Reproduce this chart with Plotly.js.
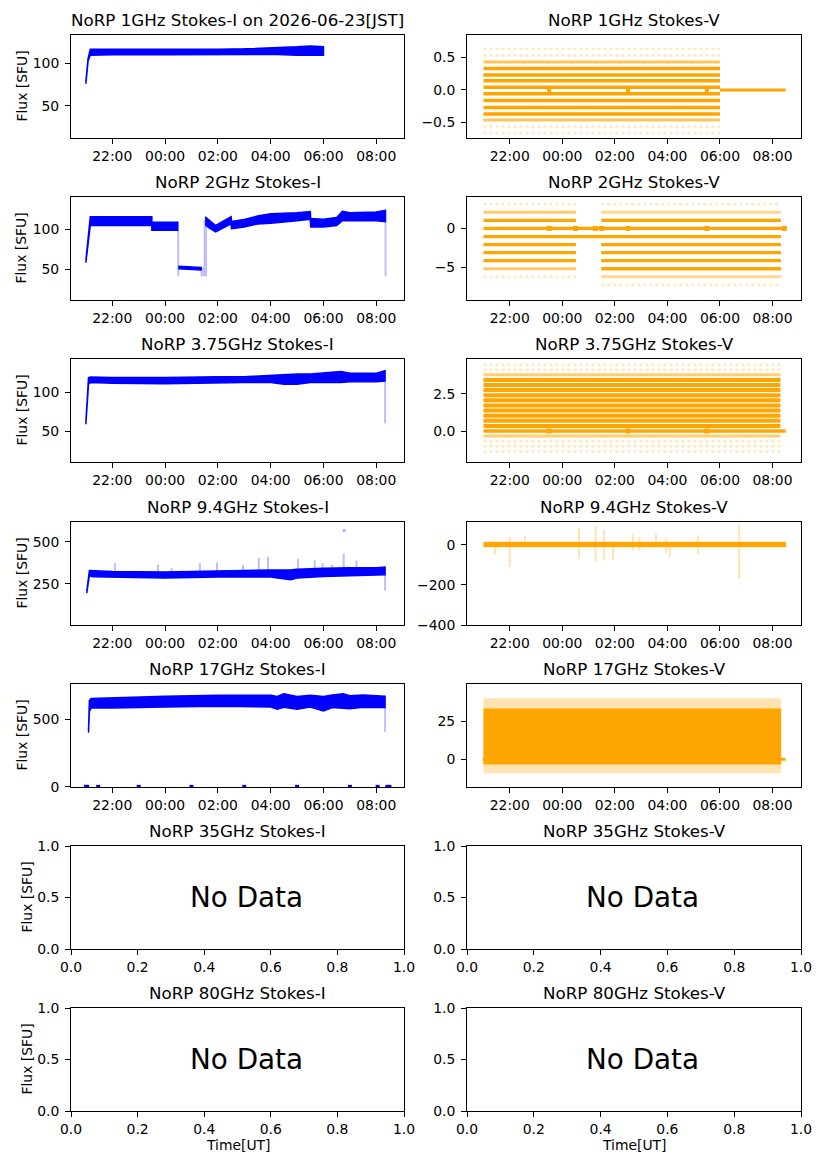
<!DOCTYPE html>
<html>
<head>
<meta charset="utf-8">
<script src="https://cdn.plot.ly/plotly-3.0.1.min.js"></script>
<style>
  body { margin: 0; background: white; }
  #chart { width: 827px; height: 1169px; }
</style>
</head>
<body>
<div id="chart"></div>
<script>
// values, time in UT (HH:MM)
const freqLabels = ['1GHz', '2GHz', '3.75GHz', '9.4GHz', '17GHz', '35GHz', '80GHz'];

// 1 GHz
const i1gTime = ['21:00', '21:05', '21:10', '22:00', '00:00', '02:00', '03:00', '04:00', '05:00', '05:30', '06:00'];
const i1gLow = [76, 103, 110, 110.5, 110.5, 110.5, 111, 111, 110, 110, 110];
const i1gHigh = [79, 106, 117, 117, 117, 117, 117.5, 118.5, 120, 121, 120];
const v1gSpan = ['21:00', '06:00'];
const v1gSolid = [0.33, 0.23, 0.14, 0.04, -0.06, -0.16, -0.27, -0.37];
const v1gMedium = [0.43, -0.46];
const v1gSparse = [0.53, 0.63, -0.56, -0.66];
const v1gZeroSpan = ['06:00', '08:30'];
const v1gZeroDots = ['23:30', '02:30', '05:30'];

// 2 GHz
const i2gTimeA = ['21:00', '21:10', '22:00', '23:30', '23:30', '00:29'];
const i2gLowA = [58, 105, 105, 105, 99, 99];
const i2gHighA = [61, 116, 116, 116, 109, 109];
const i2gTimeB = ['00:30', '01:22'];
const i2gLowB = [50.5, 49];
const i2gHighB = [53.5, 52];
const i2gTimeC = ['01:31', '01:40', '01:55', '02:15', '02:30', '02:31', '03:00', '03:30', '04:00',
  '05:00', '05:30', '05:31', '06:00', '06:30', '06:43', '07:00', '08:00', '08:21'];
const i2gLowC = [106, 102, 97, 103, 107, 101, 103, 107, 108, 111, 113, 103, 103, 105, 111, 111, 111, 110];
const i2gHighC = [116, 112, 105, 111, 116, 110, 112.5, 117, 120, 121, 122.5, 114, 113, 115, 123, 121, 122, 124];
const i2gDropTime = ['00:30', '01:23', '01:27', '01:30', '01:33', '08:21'];
const i2gDropFrom = [99, 52, 52, 112, 115, 110];
const i2gDropTo = [41, 41, 41, 41, 41, 41];
const v2gSpanA = ['21:00', '00:31'];
const v2gSpanC = ['01:29', '08:19'];
const v2gSolid = [1.04, -2.08, -3.12, -4.16];
const v2gMediumA = [2.08, -5.2];
const v2gSparseA = [3.12, -6.24];
const v2gSolidC = [-5.2];
const v2gMediumC = [2.08, -6.24];
const v2gSparseC = [3.12, -7.28];
const v2gBridge = [-1.04];
const v2gBridgeSpan = ['21:00', '08:19'];
const v2gZeroSpan = ['21:00', '08:30'];
const v2gZeroDots = ['23:30', '00:30', '01:15', '01:30', '02:30', '05:30', '08:27'];

// 3.75 GHz
const i3gTime = ['21:00', '21:06', '21:10', '22:00', '00:00', '02:00', '03:00', '04:00', '04:30', '05:00',
  '05:30', '06:00', '06:40', '07:00', '08:00', '08:20'];
const i3gLow = [59, 110, 112, 111, 110.5, 112, 112, 112, 110, 110, 112, 112, 112, 113, 113, 114];
const i3gHigh = [62, 118, 119, 118.5, 118.5, 119.5, 119.5, 121, 122, 123, 123, 124, 126, 124, 124, 127];
const i3gDropTime = ['08:20'];
const i3gDropFrom = [113];
const i3gDropTo = [60];
const v3gSpan = ['21:00', '08:18'];
const v3gSolid = [3.45, 3.10, 2.76, 2.41, 2.07, 1.72, 1.38, 1.03, 0.69, 0.34];
const v3gMedium = [3.79, -0.34];
const v3gSparse = [4.14, 4.48, -0.69, -1.03, -1.38];
const v3gZeroSpan = ['21:00', '08:30'];
const v3gZeroDots = ['23:30', '02:30', '05:30'];

// 9.4 GHz
const i9gTime = ['21:02', '21:08', '21:15', '22:00', '00:00', '02:00', '04:00', '04:45', '05:00', '06:00',
  '07:00', '08:00', '08:20'];
const i9gLow = [195, 300, 292, 290, 285, 290, 290, 275, 285, 293, 296, 300, 304];
const i9gHigh = [205, 329, 325, 323, 320, 328, 332, 333, 336, 343, 345, 345, 349];
const i9gSpikeTime = ['22:06', '23:44', '00:15', '01:19', '01:58', '02:57', '03:33', '03:54', '05:02',
  '05:40', '05:58', '06:19', '06:46', '07:15', '08:20'];
const i9gSpikeFrom = [320, 320, 320, 322, 325, 325, 328, 328, 330, 335, 338, 340, 340, 342, 305];
const i9gSpikeTo = [373, 363, 343, 373, 377, 363, 403, 412, 398, 389, 373, 363, 428, 389, 210];
const i9gOutlierTime = ['06:47'];
const i9gOutlierFlux = [566];
const v9gTime = ['21:00', '08:30'];
const v9gLow = [-10, -10];
const v9gHigh = [12, 12];
const v9gSpikeTime = ['21:27', '22:00', '22:35', '00:38', '01:16', '01:35', '01:56', '02:41', '02:56',
  '03:34', '03:57', '04:05', '05:10', '06:44'];
const v9gSpikeLow = [-50, -111, -10, -71, -83, -78, -75, -30, -30, -20, -40, -64, -50, -170];
const v9gSpikeHigh = [15, 41, 44, 83, 95, 75, 20, 50, 40, 55, 30, 10, 45, 100];

// 17 GHz
const i17Time = ['21:06', '21:08', '21:12', '22:00', '00:00', '02:00', '04:00', '04:15', '04:30', '05:00',
  '05:30', '06:00', '06:20', '06:45', '07:00', '07:30', '08:20'];
const i17Low = [401, 560, 584, 584, 592, 597, 592, 575, 590, 575, 592, 562, 588, 582, 578, 590, 588];
const i17High = [420, 640, 655, 658, 671, 678, 678, 670, 690, 670, 678, 670, 680, 690, 675, 680, 671];
const i17DropTime = ['08:20'];
const i17DropFrom = [588];
const i17DropTo = [408];
const i17ZeroTime = ['21:00', '21:03', '21:28', '23:00', '01:00', '03:00', '05:00', '07:00', '08:03', '08:25', '08:30'];
const v17Time = ['21:00', '08:18'];
const v17CoreLow = [-3, -3];
const v17CoreHigh = [33, 33];
const v17HaloLow = [-9, -9];
const v17HaloHigh = [40, 40];
const v17ZeroSpan = ['20:58', '08:30'];

const BLUE = '#0000ff';
const ORANGE = '#ffa500';

const day = (t) => (t < '12:00' ? '2026-06-23 ' : '2026-06-22 ') + t;
const ax = (n) => (n === 1 ? '' : String(n));

function band(times, lo, hi, n, color, opacity = 1, width = 1.5) {
  return {
    x: [...times, ...times.slice().reverse()].map(day),
    y: [...lo, ...hi.slice().reverse()],
    xaxis: 'x' + ax(n), yaxis: 'y' + ax(n),
    mode: 'lines', fill: 'toself', fillcolor: color, opacity,
    line: { color, width }, hoverinfo: 'skip',
  };
}

function segments(times, from, to, n, color, opacity, width = 1.5) {
  const x = [];
  const y = [];
  times.forEach((t, k) => {
    x.push(day(t), day(t), null);
    y.push(from[k], to[k], null);
  });
  return {
    x, y, xaxis: 'x' + ax(n), yaxis: 'y' + ax(n), mode: 'lines', opacity,
    line: { color, width }, hoverinfo: 'skip',
  };
}

function levels(vals, span, n, color, width, opacity = 1, dash = 'solid') {
  const x = [];
  const y = [];
  vals.forEach((v) => {
    x.push(day(span[0]), day(span[1]), null);
    y.push(v, v, null);
  });
  return {
    x, y, xaxis: 'x' + ax(n), yaxis: 'y' + ax(n), mode: 'lines', opacity,
    line: { color, width, dash }, hoverinfo: 'skip',
  };
}

function dots(times, vals, n, color, size, opacity = 1) {
  return {
    x: times.map(day), y: vals, xaxis: 'x' + ax(n), yaxis: 'y' + ax(n),
    mode: 'markers', opacity, marker: { color, size, symbol: 'square' }, hoverinfo: 'skip',
  };
}

const zeros = (arr) => arr.map(() => 0);

const traces = [
  // 1 GHz
  band(i1gTime, i1gLow, i1gHigh, 1, BLUE),
  levels(v1gSparse, v1gSpan, 2, ORANGE, 2.5, 0.25, 'dot'),
  levels(v1gMedium, v1gSpan, 2, ORANGE, 3, 0.65),
  levels(v1gSolid, v1gSpan, 2, ORANGE, 3.5),
  levels([0], v1gZeroSpan, 2, ORANGE, 3),
  dots(v1gZeroDots, zeros(v1gZeroDots), 2, ORANGE, 4),
  // 2 GHz
  segments(i2gDropTime, i2gDropFrom, i2gDropTo, 3, BLUE, 0.25, 2),
  band(i2gTimeA, i2gLowA, i2gHighA, 3, BLUE),
  band(i2gTimeB, i2gLowB, i2gHighB, 3, BLUE),
  band(i2gTimeC, i2gLowC, i2gHighC, 3, BLUE),
  levels(v2gSparseA, v2gSpanA, 4, ORANGE, 2.5, 0.25, 'dot'),
  levels(v2gSparseC, v2gSpanC, 4, ORANGE, 2.5, 0.25, 'dot'),
  levels(v2gMediumA, v2gSpanA, 4, ORANGE, 3, 0.6),
  levels(v2gMediumC, v2gSpanC, 4, ORANGE, 3, 0.45),
  levels(v2gSolid, v2gSpanA, 4, ORANGE, 3.3),
  levels(v2gSolid, v2gSpanC, 4, ORANGE, 3.3),
  levels(v2gSolidC, v2gSpanC, 4, ORANGE, 3.3),
  levels(v2gBridge, v2gBridgeSpan, 4, ORANGE, 3.3),
  levels([0], v2gZeroSpan, 4, ORANGE, 3.3),
  dots(v2gZeroDots, zeros(v2gZeroDots), 4, ORANGE, 5),
  // 3.75 GHz
  segments(i3gDropTime, i3gDropFrom, i3gDropTo, 5, BLUE, 0.25, 2),
  band(i3gTime, i3gLow, i3gHigh, 5, BLUE),
  levels(v3gSparse, v3gSpan, 6, ORANGE, 2.5, 0.25, 'dot'),
  levels(v3gMedium, v3gSpan, 6, ORANGE, 3, 0.55),
  levels(v3gSolid, v3gSpan, 6, ORANGE, 4),
  levels([0], v3gZeroSpan, 6, ORANGE, 3.5),
  dots(v3gZeroDots, zeros(v3gZeroDots), 6, ORANGE, 5),
  // 9.4 GHz
  segments(i9gSpikeTime, i9gSpikeFrom, i9gSpikeTo, 7, BLUE, 0.25, 2),
  dots(i9gOutlierTime, i9gOutlierFlux, 7, BLUE, 3, 0.3),
  band(i9gTime, i9gLow, i9gHigh, 7, BLUE),
  segments(v9gSpikeTime, v9gSpikeLow, v9gSpikeHigh, 8, ORANGE, 0.3, 2),
  band(v9gTime, v9gLow, v9gHigh, 8, ORANGE, 1, 1),
  // 17 GHz
  segments(i17DropTime, i17DropFrom, i17DropTo, 9, BLUE, 0.25, 2),
  band(i17Time, i17Low, i17High, 9, BLUE),
  dots(i17ZeroTime, zeros(i17ZeroTime), 9, BLUE, 4),
  levels([0], v17ZeroSpan, 10, ORANGE, 3),
  band(v17Time, v17HaloLow, v17HaloHigh, 10, ORANGE, 0.3, 1),
  band(v17Time, v17CoreLow, v17CoreHigh, 10, ORANGE),
];

// empty panels (35 GHz, 80 GHz)
[11, 12, 13, 14].forEach((n) => {
  traces.push({ x: [], y: [], xaxis: 'x' + ax(n), yaxis: 'y' + ax(n), mode: 'lines' });
});

const W = 827;
const H = 1169;
const rowsPx = [[35, 138], [197, 300], [359, 462], [522, 625], [684, 787], [846, 949], [1008, 1111]];
const colsPx = [[71, 404], [467, 801]];
const timeRanges = [[day('20:26:12'), day('09:03')], [day('20:22:24'), day('09:05')]];
const ySpec = [
  { range: [11.5, 134], dtick: 50 }, { range: [-0.737, 0.843], dtick: 0.5, tickformat: '.1f' },
  { range: [11, 141], dtick: 50 }, { range: [-9.23, 4.06], dtick: 5 },
  { range: [11, 142], dtick: 50 }, { range: [-2.09, 4.86], dtick: 2.5, tickformat: '.1f' },
  { range: [6, 617], dtick: 250 }, { range: [-400, 113], dtick: 200 },
  { range: [-1, 762], dtick: 500 }, { range: [-18.4, 49.8], dtick: 25 },
  { range: [0, 1], dtick: 0.5, tickformat: '.1f' }, { range: [0, 1], dtick: 0.5, tickformat: '.1f' },
  { range: [0, 1], dtick: 0.5, tickformat: '.1f' }, { range: [0, 1], dtick: 0.5, tickformat: '.1f' },
];

const axisStyle = {
  showline: true, mirror: true, linecolor: 'black', linewidth: 1,
  ticks: 'outside', ticklen: 5, tickwidth: 1, tickcolor: 'black',
  showgrid: false, zeroline: false,
  tickfont: { family: 'DejaVu Sans', size: 13.9, color: 'black' },
};

const layout = {
  width: W, height: H,
  margin: { l: 0, r: 0, t: 0, b: 0 },
  showlegend: false,
  paper_bgcolor: 'white', plot_bgcolor: 'white',
  font: { family: 'DejaVu Sans', color: 'black' },
  annotations: [],
};

const note = (text, x, y, extra) => layout.annotations.push(Object.assign({
  text, x, y, xref: 'paper', yref: 'paper', showarrow: false,
  font: { family: 'DejaVu Sans', size: 16.7, color: 'black' },
}, extra));

rowsPx.forEach(([top, bottom], r) => {
  colsPx.forEach(([left, right], c) => {
    const n = 2 * r + c + 1;
    const xd = [left / W, right / W];
    const yd = [1 - bottom / H, 1 - top / H];
    const xa = Object.assign({}, axisStyle, { domain: xd, anchor: 'y' + ax(n) });
    if (r < 5) {
      Object.assign(xa, {
        type: 'date', range: timeRanges[c], tickformat: '%H:%M',
        tick0: day('22:00'), dtick: 7200000,
      });
    } else {
      Object.assign(xa, { range: [0, 1], dtick: 0.2, tick0: 0, tickformat: '.1f' });
    }
    layout['xaxis' + ax(n)] = xa;
    layout['yaxis' + ax(n)] = Object.assign({}, axisStyle, ySpec[n - 1], {
      domain: yd, anchor: 'x' + ax(n), ticklabelstandoff: 3,
    });

    let title = 'NoRP ' + freqLabels[r] + (c === 0 ? ' Stokes-I' : ' Stokes-V');
    if (n === 1) title += ' on 2026-06-23[JST]';
    note(title, (xd[0] + xd[1]) / 2, yd[1], { xanchor: 'center', yanchor: 'bottom', yshift: 3 });

    if (c === 0) {
      note('Flux [SFU]', (r < 5 ? 21 : 26) / W, (yd[0] + yd[1]) / 2, {
        textangle: -90, xanchor: 'center', yanchor: 'middle', font: { family: 'DejaVu Sans', size: 13.9, color: 'black' },
      });
    }
    if (r >= 5) {
      note('No Data', 0.35, 0.5, {
        xref: 'x' + ax(n), yref: 'y' + ax(n), xanchor: 'left', yanchor: 'middle',
        font: { family: 'DejaVu Sans', size: 27.8, color: 'black' },
      });
    }
    if (r === 6) {
      note('Time[UT]', (xd[0] + xd[1]) / 2, 1 - 1145 / H, {
        xanchor: 'center', yanchor: 'middle', font: { family: 'DejaVu Sans', size: 13.9, color: 'black' },
      });
    }
  });
});

Plotly.newPlot('chart', traces, layout, { staticPlot: true, displayModeBar: false });
</script>
</body>
</html>
